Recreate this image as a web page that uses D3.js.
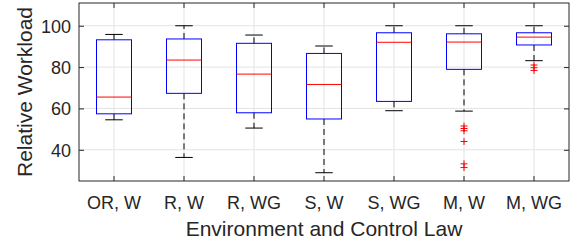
<!DOCTYPE html>
<html>
<head>
<meta charset="utf-8">
<script src="https://cdn.jsdelivr.net/npm/d3@7"></script>
<style>
  html, body { margin: 0; padding: 0; background: #fff; }
  svg { display: block; font-family: "Liberation Sans", Arial, Helvetica, sans-serif; }
</style>
</head>
<body>
<svg id="chart" width="577" height="244"></svg>
<script>
// ---- data ----
const categories   = ["OR, W", "R, W", "R, WG", "S, W", "S, WG", "M, W", "M, WG"];
const lowerWhisker = [54.5, 36.3, 50.5, 28.9, 58.9, 58.7, 83.1];
const q1           = [57.4, 67.3, 57.9, 54.9, 63.4, 78.9, 90.7];
const median       = [65.5, 83.4, 76.6, 71.6, 92.0, 92.1, 94.5];
const q3           = [93.2, 93.6, 91.5, 86.6, 96.6, 96.1, 96.6];
const upperWhisker = [95.8, 100, 95.5, 90.2, 100, 100, 100];
const outliers     = [[], [], [], [], [], [51.5, 50.3, 49.2, 44.0, 33.2, 31.4], [81.0, 79.7, 78.4]];
const yTicks       = [40, 60, 80, 100];
const yDomain      = [24.9, 111];
const xTitle = "Environment and Control Law";
const yTitle = "Relative Workload";

// ---- layout ----
const W = 577, H = 244;
const margin = { top: 3, right: 8, bottom: 63, left: 79 };
const iw = W - margin.left - margin.right;
const ih = H - margin.top - margin.bottom;
const axisColor = "#262626";

const svg = d3.select("#chart");
const g = svg.append("g").attr("transform", `translate(${margin.left},${margin.top})`);

const x = d3.scaleBand().domain(categories).range([0, iw]).paddingInner(0).paddingOuter(0);
const y = d3.scaleLinear().domain(yDomain).range([ih, 0]);
const cx = c => x(c) + x.bandwidth() / 2;
const boxW = x.bandwidth() * 0.5;
const capW = boxW * 0.5;

// grid
g.append("g").selectAll("line.vg").data(categories).join("line")
  .attr("x1", d => cx(d)).attr("x2", d => cx(d)).attr("y1", 0).attr("y2", ih)
  .attr("stroke", "#e3e3e3").attr("stroke-width", 1);
g.append("g").selectAll("line.hg").data(yTicks).join("line")
  .attr("x1", 0).attr("x2", iw).attr("y1", d => y(d)).attr("y2", d => y(d))
  .attr("stroke", "#e3e3e3").attr("stroke-width", 1);

// axes
const tickLen = 5;
const xAxis = g.append("g").attr("transform", `translate(0,${ih})`)
  .call(d3.axisBottom(x).tickSizeInner(-tickLen).tickSizeOuter(0).tickPadding(15));
const yAxis = g.append("g")
  .call(d3.axisLeft(y).tickValues(yTicks).tickSizeInner(-tickLen).tickSizeOuter(0).tickPadding(8));
const xTop = g.append("g")
  .call(d3.axisTop(x).tickSizeInner(-tickLen).tickSizeOuter(0).tickFormat(""));
const yRight = g.append("g").attr("transform", `translate(${iw},0)`)
  .call(d3.axisRight(y).tickValues(yTicks).tickSizeInner(-tickLen).tickSizeOuter(0).tickFormat(""));
[xAxis, yAxis, xTop, yRight].forEach(a => {
  a.select(".domain").remove();
  a.selectAll("line").attr("stroke", axisColor);
  a.selectAll("text").attr("fill", axisColor).style("font-size", "18px")
    .style("font-family", '"Liberation Sans", Arial, sans-serif');
});
xAxis.selectAll("text").attr("dy", "0.71em");
yAxis.selectAll("text").attr("dy", "0.35em");

// frame
g.append("rect").attr("x", 0).attr("y", 0).attr("width", iw).attr("height", ih)
  .attr("fill", "none").attr("stroke", axisColor).attr("stroke-width", 1);

// boxes
const data = categories.map((c, i) => ({
  c, lo: lowerWhisker[i], q1: q1[i], med: median[i], q3: q3[i], hi: upperWhisker[i], out: outliers[i]
}));
const bx = g.append("g").selectAll("g.box").data(data).join("g");

// whiskers (dashed)
bx.append("line").attr("x1", d => cx(d.c)).attr("x2", d => cx(d.c))
  .attr("y1", d => y(d.q3)).attr("y2", d => y(d.hi))
  .attr("stroke", "#000").attr("stroke-width", 1).attr("stroke-dasharray", "6,4");
bx.append("line").attr("x1", d => cx(d.c)).attr("x2", d => cx(d.c))
  .attr("y1", d => y(d.q1)).attr("y2", d => y(d.lo))
  .attr("stroke", "#000").attr("stroke-width", 1).attr("stroke-dasharray", "6,4");
// caps
bx.append("line").attr("x1", d => cx(d.c) - capW / 2).attr("x2", d => cx(d.c) + capW / 2)
  .attr("y1", d => y(d.hi)).attr("y2", d => y(d.hi)).attr("stroke", "#000").attr("stroke-width", 1);
bx.append("line").attr("x1", d => cx(d.c) - capW / 2).attr("x2", d => cx(d.c) + capW / 2)
  .attr("y1", d => y(d.lo)).attr("y2", d => y(d.lo)).attr("stroke", "#000").attr("stroke-width", 1);
// box
bx.append("rect").attr("x", d => cx(d.c) - boxW / 2).attr("width", boxW)
  .attr("y", d => y(d.q3)).attr("height", d => y(d.q1) - y(d.q3))
  .attr("fill", "none").attr("stroke", "#0000ff").attr("stroke-width", 1);
// median
bx.append("line").attr("x1", d => cx(d.c) - boxW / 2).attr("x2", d => cx(d.c) + boxW / 2)
  .attr("y1", d => y(d.med)).attr("y2", d => y(d.med)).attr("stroke", "#ff0000").attr("stroke-width", 1);
// outliers
const ps = 3.5;
bx.each(function (d) {
  const sel = d3.select(this).selectAll("path.out").data(d.out).join("path")
    .attr("d", v => {
      const px = cx(d.c), py = y(v);
      return `M${px - ps},${py}H${px + ps}M${px},${py - ps}V${py + ps}`;
    })
    .attr("stroke", "#ff0000").attr("stroke-width", 1).attr("fill", "none");
});

// titles
svg.append("text").attr("x", margin.left + iw / 2).attr("y", 236)
  .attr("text-anchor", "middle").attr("fill", axisColor).style("font-size", "21px").text(xTitle);
svg.append("text").attr("transform", `translate(32,${margin.top + ih / 2}) rotate(-90)`)
  .attr("text-anchor", "middle").attr("fill", axisColor).style("font-size", "21px").text(yTitle);
</script>
</body>
</html>
